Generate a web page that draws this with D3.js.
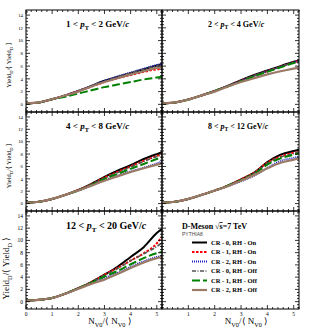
<!DOCTYPE html>
<html><head><meta charset="utf-8">
<script src="https://cdn.jsdelivr.net/npm/d3@7"></script>
<style>body{margin:0;background:#fff}svg{display:block}text{font-family:"Liberation Serif","Times New Roman",serif}</style>
</head><body><svg id="c" width="315" height="328"></svg>
<script>
// ---- data ----
const xVals = [0, 0.5, 1, 1.5, 2, 2.5, 3, 3.5, 4, 4.5, 5, 5.2];
const seriesNames = ["CR - 0, RH - On", "CR - 1, RH - On", "CR - 2, RH - On", "CR - 0, RH - Off", "CR - 1, RH - Off", "CR - 2, RH - Off"];
const ptBins = [["1", "2"], ["2", "4"], ["4", "8"], ["8", "12"], ["12", "20"]];
const xTicks = [0, 1, 2, 3, 4, 5];
const yTicks = [0, 2, 4, 6, 8, 10, 12, 14];
// yields per pT bin: [CR0 On, CR1 On, CR2 On, CR0 Off, CR1 Off, CR2 Off]
const yield_1_2 = [
  [0.15,0.3,0.8,1.4,2.1,2.9,3.7,4.3,4.9,5.5,6.1,6.3],
  [0.15,0.3,0.8,1.4,2.1,2.8,3.5,4.1,4.6,5.1,5.5,5.6],
  [0.15,0.3,0.8,1.4,2.1,2.9,3.7,4.4,5.0,5.6,6.2,6.4],
  [0.15,0.3,0.8,1.4,2.1,2.9,3.6,4.3,4.9,5.5,6.0,6.2],
  [0.15,0.3,0.8,1.2,1.7,2.2,2.7,3.1,3.5,3.9,4.2,4.3],
  [0.15,0.3,0.8,1.4,2.0,2.8,3.5,4.1,4.7,5.2,5.7,5.8]
];
const yield_2_4 = [
  [0.15,0.3,0.75,1.4,2.1,2.9,3.8,4.6,5.3,6.0,6.7,6.9],
  [0.15,0.3,0.75,1.4,2.1,2.9,3.7,4.5,5.2,5.9,6.6,6.8],
  [0.15,0.3,0.75,1.4,2.1,2.9,3.7,4.5,5.2,5.9,6.6,6.8],
  [0.15,0.3,0.75,1.4,2.1,2.9,3.7,4.5,5.2,5.9,6.5,6.7],
  [0.15,0.3,0.75,1.4,2.1,2.8,3.6,4.4,5.1,5.8,6.5,6.7],
  [0.15,0.3,0.75,1.4,2.0,2.8,3.5,4.1,4.7,5.2,5.6,5.8]
];
const yield_4_8 = [
  [0.15,0.3,0.75,1.4,2.2,3.2,4.3,5.3,6.2,7.2,8.0,8.3],
  [0.15,0.3,0.75,1.4,2.2,3.1,4.2,5.1,6.0,6.9,7.7,8.0],
  [0.15,0.3,0.75,1.4,2.1,2.9,3.8,4.5,5.2,5.8,6.5,6.8],
  [0.15,0.3,0.75,1.4,2.2,3.1,4.1,5.0,5.9,6.8,7.6,7.9],
  [0.15,0.3,0.75,1.4,2.1,3.0,4.0,4.8,5.6,6.4,7.2,7.5],
  [0.15,0.3,0.75,1.4,2.1,2.9,3.7,4.4,5.1,5.7,6.3,6.5]
];
const yield_8_12 = [
  [0.15,0.3,0.75,1.4,2.1,2.9,3.9,5.0,6.7,7.9,8.5,8.7],
  [0.15,0.3,0.75,1.4,2.1,2.9,3.9,5.0,6.6,7.6,8.2,8.3],
  [0.15,0.3,0.75,1.4,2.1,2.8,3.6,4.5,5.8,6.9,7.4,7.6],
  [0.15,0.3,0.75,1.4,2.1,2.9,3.8,4.9,6.5,7.5,8.1,8.3],
  [0.15,0.3,0.75,1.4,2.1,2.9,3.8,4.8,6.3,7.3,7.9,8.1],
  [0.15,0.3,0.75,1.4,2.1,2.8,3.7,4.6,5.7,6.6,7.1,7.3]
];
const yield_12_20 = [
  [0.15,0.3,0.6,1.3,2.2,3.2,4.4,5.7,7.3,8.9,11.2,11.9],
  [0.15,0.3,0.6,1.3,2.2,3.2,4.4,5.5,6.7,7.9,9.5,10.6],
  [0.15,0.3,0.6,1.3,2.1,3.0,3.9,4.7,5.7,6.6,7.3,7.5],
  [0.15,0.3,0.6,1.3,2.2,3.2,4.3,5.4,6.7,7.8,9.0,9.6],
  [0.15,0.3,0.6,1.3,2.2,3.1,4.1,5.0,6.1,7.1,7.9,8.1],
  [0.15,0.3,0.6,1.3,2.1,2.9,3.6,4.5,5.5,6.4,7.1,7.3]
];
const panelData = [yield_1_2, yield_2_4, yield_4_8, yield_8_12, yield_12_20];

// ---- styles ----
const styles = [
  {color:"#000000", dash:null, w:2},
  {color:"#ff0000", dash:"2.5,1.5", w:2},
  {color:"#2020c0", dash:"1,1", w:1.8},
  {color:"#555555", dash:"4,1.5,1,1.5", w:1.6},
  {color:"#008000", dash:"8,3", w:2},
  {color:"#9a7a66", dash:null, w:2.2}
];

const svg = d3.select("#c");
const cols = [[26,162],[162,299]];
const rows = [[10,112],[112,211],[211,309]];
const xDomain = [0, 5.2], yDomain = [-1.2, 14.8];

function drawFrame(g, x, y, r, c) {
  const [x0,x1] = x.range(), [y0,y1] = y.range(); // y0 bottom, y1 top
  g.append("rect").attr("x",x0).attr("y",y1).attr("width",x1-x0).attr("height",y0-y1)
    .attr("fill","none").attr("stroke","#000").attr("stroke-width",1);
  const t = g.append("g").attr("stroke","#000").attr("stroke-width",0.8);
  // x ticks
  for (let v = 0; v <= 5.2001; v += 0.2) {
    const major = Math.abs(v - Math.round(v)) < 1e-6;
    const L = major ? 4 : 2;
    const px = x(v);
    t.append("line").attr("x1",px).attr("x2",px).attr("y1",y0).attr("y2",y0-L);
    t.append("line").attr("x1",px).attr("x2",px).attr("y1",y1).attr("y2",y1+L);
  }
  for (let v = -1; v <= 14.8; v += 0.5) {
    const major = Math.abs(v/2 - Math.round(v/2)) < 1e-6;
    const L = major ? 4 : 2;
    const py = y(v);
    t.append("line").attr("x1",x0).attr("x2",x0+L).attr("y1",py).attr("y2",py);
    t.append("line").attr("x1",x1).attr("x2",x1-L).attr("y1",py).attr("y2",py);
  }
}

function addPt(g, tx, ty, lo, hi, fs) {
  const t = g.append("text").attr("x",tx).attr("y",ty).attr("font-size",fs).attr("font-weight","bold");
  t.append("tspan").text(lo + " <  ");
  t.append("tspan").attr("font-style","italic").text("p");
  t.append("tspan").attr("font-size",fs*0.7).attr("dy",fs*0.3).text("T");
  t.append("tspan").attr("dy",-fs*0.3).text(" < " + hi + " GeV/");
  t.append("tspan").attr("font-style","italic").text("c");
}

function yTitle(g, cx, cy, fs) {
  const t = g.append("text").attr("transform",`translate(${cx},${cy}) rotate(-90)`)
    .attr("text-anchor","middle").attr("font-size",fs);
  t.append("tspan").text("Yield");
  t.append("tspan").attr("font-size",fs*0.7).attr("dy",fs*0.3).text("D");
  t.append("tspan").attr("dy",-fs*0.3).text("/\u27E8 Yield");
  t.append("tspan").attr("font-size",fs*0.7).attr("dy",fs*0.3).text("D");
  t.append("tspan").attr("dy",-fs*0.3).text(" \u27E9");
}
function xTitle(g, cx, cy, fs) {
  const t = g.append("text").attr("x",cx).attr("y",cy).attr("text-anchor","middle").attr("font-size",fs);
  t.append("tspan").text("N");
  t.append("tspan").attr("font-size",fs*0.7).attr("dy",fs*0.3).text("V0");
  t.append("tspan").attr("dy",-fs*0.3).text("/\u27E8 N");
  t.append("tspan").attr("font-size",fs*0.7).attr("dy",fs*0.3).text("V0");
  t.append("tspan").attr("dy",-fs*0.3).text(" \u27E9");
}

for (let p = 0; p < 6; p++) {
  const r = Math.floor(p/2), c = p%2;
  const x = d3.scaleLinear().domain(xDomain).range(cols[c]);
  const y = d3.scaleLinear().domain(yDomain).range([rows[r][1], rows[r][0]]);
  const g = svg.append("g");
  const clipId = "clip"+p;
  svg.append("clipPath").attr("id",clipId).append("rect")
    .attr("x",cols[c][0]).attr("y",rows[r][0]).attr("width",cols[c][1]-cols[c][0]).attr("height",rows[r][1]-rows[r][0]);
  if (p < 5) {
    const data = panelData[p];
    const line = d3.line().x((d,i)=>x(xVals[i])).y(d=>y(d)).curve(d3.curveMonotoneX);
    const lg = g.append("g").attr("clip-path",`url(#${clipId})`);
    data.forEach((s,i)=>{
      const st = styles[i];
      lg.append("path").attr("d",line(s)).attr("fill","none").attr("stroke",st.color)
        .attr("stroke-width",st.w).attr("stroke-dasharray",st.dash);
    });
    addPt(g, cols[c][0] + (c===0?40:46), rows[r][0] + (p===4?18:17), ptBins[p][0], ptBins[p][1], p===4?10:(c===0?9:8));
  } else {
    // legend
    const lx = 182;
    const tt = g.append("text").attr("x",lx).attr("y",229).attr("font-size",8).attr("font-weight","bold");
    tt.append("tspan").text("D-Meson  \u221A");
    tt.append("tspan").attr("text-decoration","overline").text("s");
    tt.append("tspan").text("=7 TeV");
    g.append("text").attr("x",lx).attr("y",236).attr("font-size",5).attr("fill","#444")
      .style("font-family","'Liberation Sans',Arial,sans-serif").text("PYTHIA8");
    seriesNames.forEach((n,i)=>{
      const yy = 242.5 + i*9.5;
      const st = styles[i];
      g.append("line").attr("x1",192).attr("x2",207).attr("y1",yy).attr("y2",yy)
        .attr("stroke",st.color).attr("stroke-width",st.w).attr("stroke-dasharray",st.dash);
      g.append("text").attr("x",211).attr("y",yy+2.3).attr("font-size",6.5).attr("font-weight","bold").text(n);
    });
  }
  drawFrame(g, x, y, r, c);
  // y tick labels on left column
  if (c === 0) {
    const fs = r===2 ? 5.5 : 4.8;
    yTicks.forEach(v=>{
      g.append("text").attr("x",cols[0][0]-3).attr("y",y(v)+fs*0.35).attr("text-anchor","end")
        .attr("font-size",fs).text(v);
    });
    yTitle(g, r===2?9:11, (rows[r][0]+rows[r][1])/2 + (r===2?8:4), r===2?9:6.5);
  }
  if (r === 2) {
    xTicks.forEach(v=>{
      if (c===1 && v===0) return;
      g.append("text").attr("x",x(v)).attr("y",316).attr("text-anchor","middle").attr("font-size",5.5).text(v);
    });
    xTitle(g, (cols[c][0]+cols[c][1])/2 + 16, 324, 9);
  }
}
</script></body></html>
